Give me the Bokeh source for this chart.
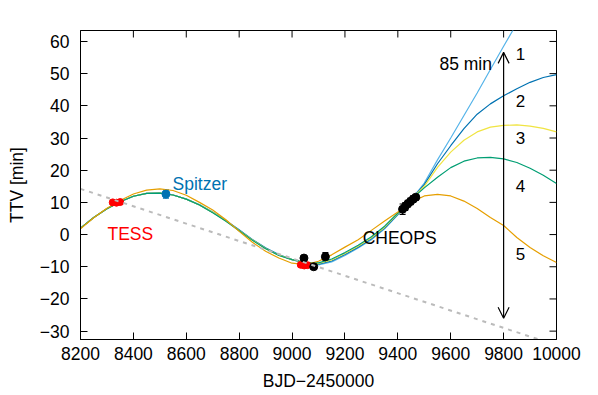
import math
from bokeh.plotting import figure
from bokeh.models import (Range1d, FixedTicker, Whisker, ColumnDataSource,
                          Arrow, OpenHead, TeeHead)
from bokeh.core.properties import value
from bokeh.embed import file_html
from bokeh.resources import INLINE

FONT = "Liberation Sans"

x_ticks = [8200, 8400, 8600, 8800, 9000, 9200, 9400, 9600, 9800, 10000]
y_ticks = [-30, -20, -10, 0, 10, 20, 30, 40, 50, 60]
y_tick_labels = {-30: "\u221230", -20: "\u221220", -10: "\u221210"}
x_lim = (8200, 10000)
y_lim = (-32.6, 63.4)

x_model = list(range(8200, 10001, 50))
model_1 = [2.0, 5.3, 8.0, 10.2, 11.9, 12.8, 12.9, 12.3, 11.0, 9.3, 7.0, 4.4, 1.5, -1.5, -4.1, -6.2, -7.8, -8.9, -9.4,
           -8.5, -6.5, -4.2, -1.6, 1.8, 6.1, 10.8, 16.0, 23.2, 30.0, 37.0, 44.0, 51.3, 58.5, 65.6, 72.5, 79.0, 85.0]
model_2 = [2.0, 5.3, 8.0, 10.2, 11.9, 12.8, 12.9, 12.3, 11.0, 9.2, 6.9, 4.3, 1.4, -1.6, -4.2, -6.3, -7.8, -8.8, -9.2,
           -8.2, -6.2, -3.9, -1.3, 2.0, 6.3, 10.8, 15.5, 22.0, 27.6, 32.9, 37.4, 40.6, 43.1, 45.3, 47.3, 48.8, 49.7]
model_3 = [2.0, 5.3, 8.0, 10.2, 11.9, 12.8, 12.9, 12.3, 11.0, 9.2, 6.9, 4.2, 1.3, -1.7, -4.3, -6.4, -7.8, -8.7, -9.0,
           -7.9, -5.9, -3.6, -1.0, 2.3, 6.5, 10.9, 15.0, 20.9, 25.6, 29.3, 31.9, 33.4, 33.9, 34.1, 33.7, 33.0, 31.9]
model_4 = [2.0, 5.3, 8.0, 10.2, 11.9, 12.8, 12.9, 12.3, 11.0, 9.2, 6.8, 4.1, 1.2, -1.8, -4.4, -6.5, -7.8, -8.6, -8.8,
           -7.6, -5.6, -3.3, -0.7, 2.6, 6.7, 10.9, 14.5, 17.8, 20.8, 22.8, 23.8, 24.0, 23.5, 22.4, 20.6, 18.4, 15.9]
model_5 = [1.8, 5.2, 8.2, 10.6, 12.6, 13.8, 14.2, 13.7, 12.2, 10.0, 7.6, 4.6, 1.0, -2.4, -5.2, -7.3, -8.9, -9.3, -8.3,
           -6.3, -3.9, -1.6, 1.3, 4.2, 7.0, 10.0, 12.0, 12.5, 12.0, 10.4, 8.1, 5.3, 2.8, -0.9, -4.0, -6.6, -8.7]
model_colors = ["#56B4E9", "#0072B2", "#F0E442", "#009E73", "#E69F00"]

trend_x = [8200, 10000]
trend_y = [14.2, -34.4]

tess_x = [8322, 8336, 8350, 9033, 9046, 9058]
tess_y = [10.0, 9.9, 10.1, -9.4, -9.6, -9.5]
tess_err = [0.6, 0.6, 0.6, 0.6, 0.6, 0.6]

spitzer_x = [8523]
spitzer_y = [12.6]
spitzer_err = [1.3]

cheops_x = [9045, 9082, 9126, 9418, 9428, 9438, 9448, 9458, 9468]
cheops_y = [-7.3, -10.0, -6.9, 7.9, 8.7, 9.6, 10.3, 11.0, 11.6]
cheops_err = [0.8, 0.8, 1.3, 1.6, 1.2, 1.0, 1.0, 1.0, 0.8]

arrow_x = 9800
arrow_y = [-26.0, 56.6]

num_labels = ["1", "2", "3", "4", "5"]
num_x = [9864, 9864, 9864, 9864, 9864]
num_y = [56.2, 41.6, 30.0, 15.2, -6.0]

p = figure(width=598, height=395, x_range=Range1d(*x_lim), y_range=Range1d(*y_lim),
           output_backend="svg", toolbar_location=None,
           min_border_left=80, min_border_right=42, min_border_top=30, min_border_bottom=56)
p.grid.visible = False
p.outline_line_color = "black"
p.outline_line_width = 1
p.outline_line_alpha = 1
p.background_fill_color = "white"
p.border_fill_color = "white"

p.xaxis.ticker = FixedTicker(ticks=x_ticks)
p.yaxis.ticker = FixedTicker(ticks=y_ticks)
p.yaxis.major_label_overrides = y_tick_labels
p.xaxis.axis_label = "BJD\u22122450000"
p.yaxis.axis_label = "TTV [min]"
for ax in [p.xaxis[0], p.yaxis[0]]:
    ax.major_tick_in = 7
    ax.major_tick_out = 0
    ax.minor_tick_line_color = None
    ax.axis_line_color = "black"
    ax.major_tick_line_color = "black"
    ax.major_label_text_font = FONT
    ax.major_label_text_font_size = "17.5px"
    ax.major_label_text_color = "black"
    ax.axis_label_text_font = FONT
    ax.axis_label_text_font_size = "17.5px"
    ax.axis_label_text_font_style = "normal"
    ax.axis_label_text_color = "black"
p.xaxis.major_label_standoff = 7
p.xaxis.axis_label_standoff = 8
p.yaxis.major_label_standoff = 11
p.yaxis.axis_label_standoff = 10

# mirrored inward ticks on top and right edges (clipped to the frame)
p.scatter(x_ticks, [y_lim[1]] * len(x_ticks), marker="dash", angle=math.pi / 2, size=14,
          line_color="black", line_width=1)
p.scatter([x_lim[1]] * len(y_ticks), y_ticks, marker="dash", size=14, line_color="black", line_width=1)

for ys, c in zip([model_1, model_2, model_3, model_4, model_5], model_colors):
    p.line(x_model, ys, line_color=c, line_width=1.2)

def points(xs, ys, errs, color, size):
    src = ColumnDataSource(dict(x=xs, y=ys, lo=[a - b for a, b in zip(ys, errs)],
                                hi=[a + b for a, b in zip(ys, errs)]))
    w = Whisker(source=src, base="x", lower="lo", upper="hi", line_color=color, line_width=1.2,
                upper_head=TeeHead(size=6, line_color=color, line_width=1.2),
                lower_head=TeeHead(size=6, line_color=color, line_width=1.2))
    p.add_layout(w)
    p.scatter("x", "y", source=src, size=size, fill_color=color, line_color=color)

points(tess_x, tess_y, tess_err, "#ff0000", 7)
points(spitzer_x, spitzer_y, spitzer_err, "#0072B2", 8)
points(cheops_x, cheops_y, cheops_err, "black", 8)

p.line(trend_x, trend_y, line_color="#bbbbbb", line_width=2, line_dash="4 5")

p.add_layout(Arrow(start=OpenHead(size=11, line_width=1.2), end=OpenHead(size=11, line_width=1.2),
                   x_start=arrow_x, y_start=arrow_y[0], x_end=arrow_x, y_end=arrow_y[1],
                   line_width=1.2, line_color="black"))

p.text(num_x, num_y, text=num_labels, text_font=value(FONT), text_font_size="17px",
       text_align="center", text_baseline="middle", text_color="black")
p.text([9756], [53.0], text=["85 min"], text_font=value(FONT), text_font_size="17.5px",
       text_align="right", text_baseline="middle", text_color="black")
p.text([8548], [15.8], text=["Spitzer"], text_font=value(FONT), text_font_size="17.5px",
       text_align="left", text_baseline="middle", text_color="#0072B2")
p.text([8302], [0.3], text=["TESS"], text_font=value(FONT), text_font_size="17.5px",
       text_align="left", text_baseline="middle", text_color="#ff0000")
p.text([9267], [-1.2], text=["CHEOPS"], text_font=value(FONT), text_font_size="17.5px",
       text_align="left", text_baseline="middle", text_color="black")

open("out.html", "w").write(file_html(p, INLINE))
